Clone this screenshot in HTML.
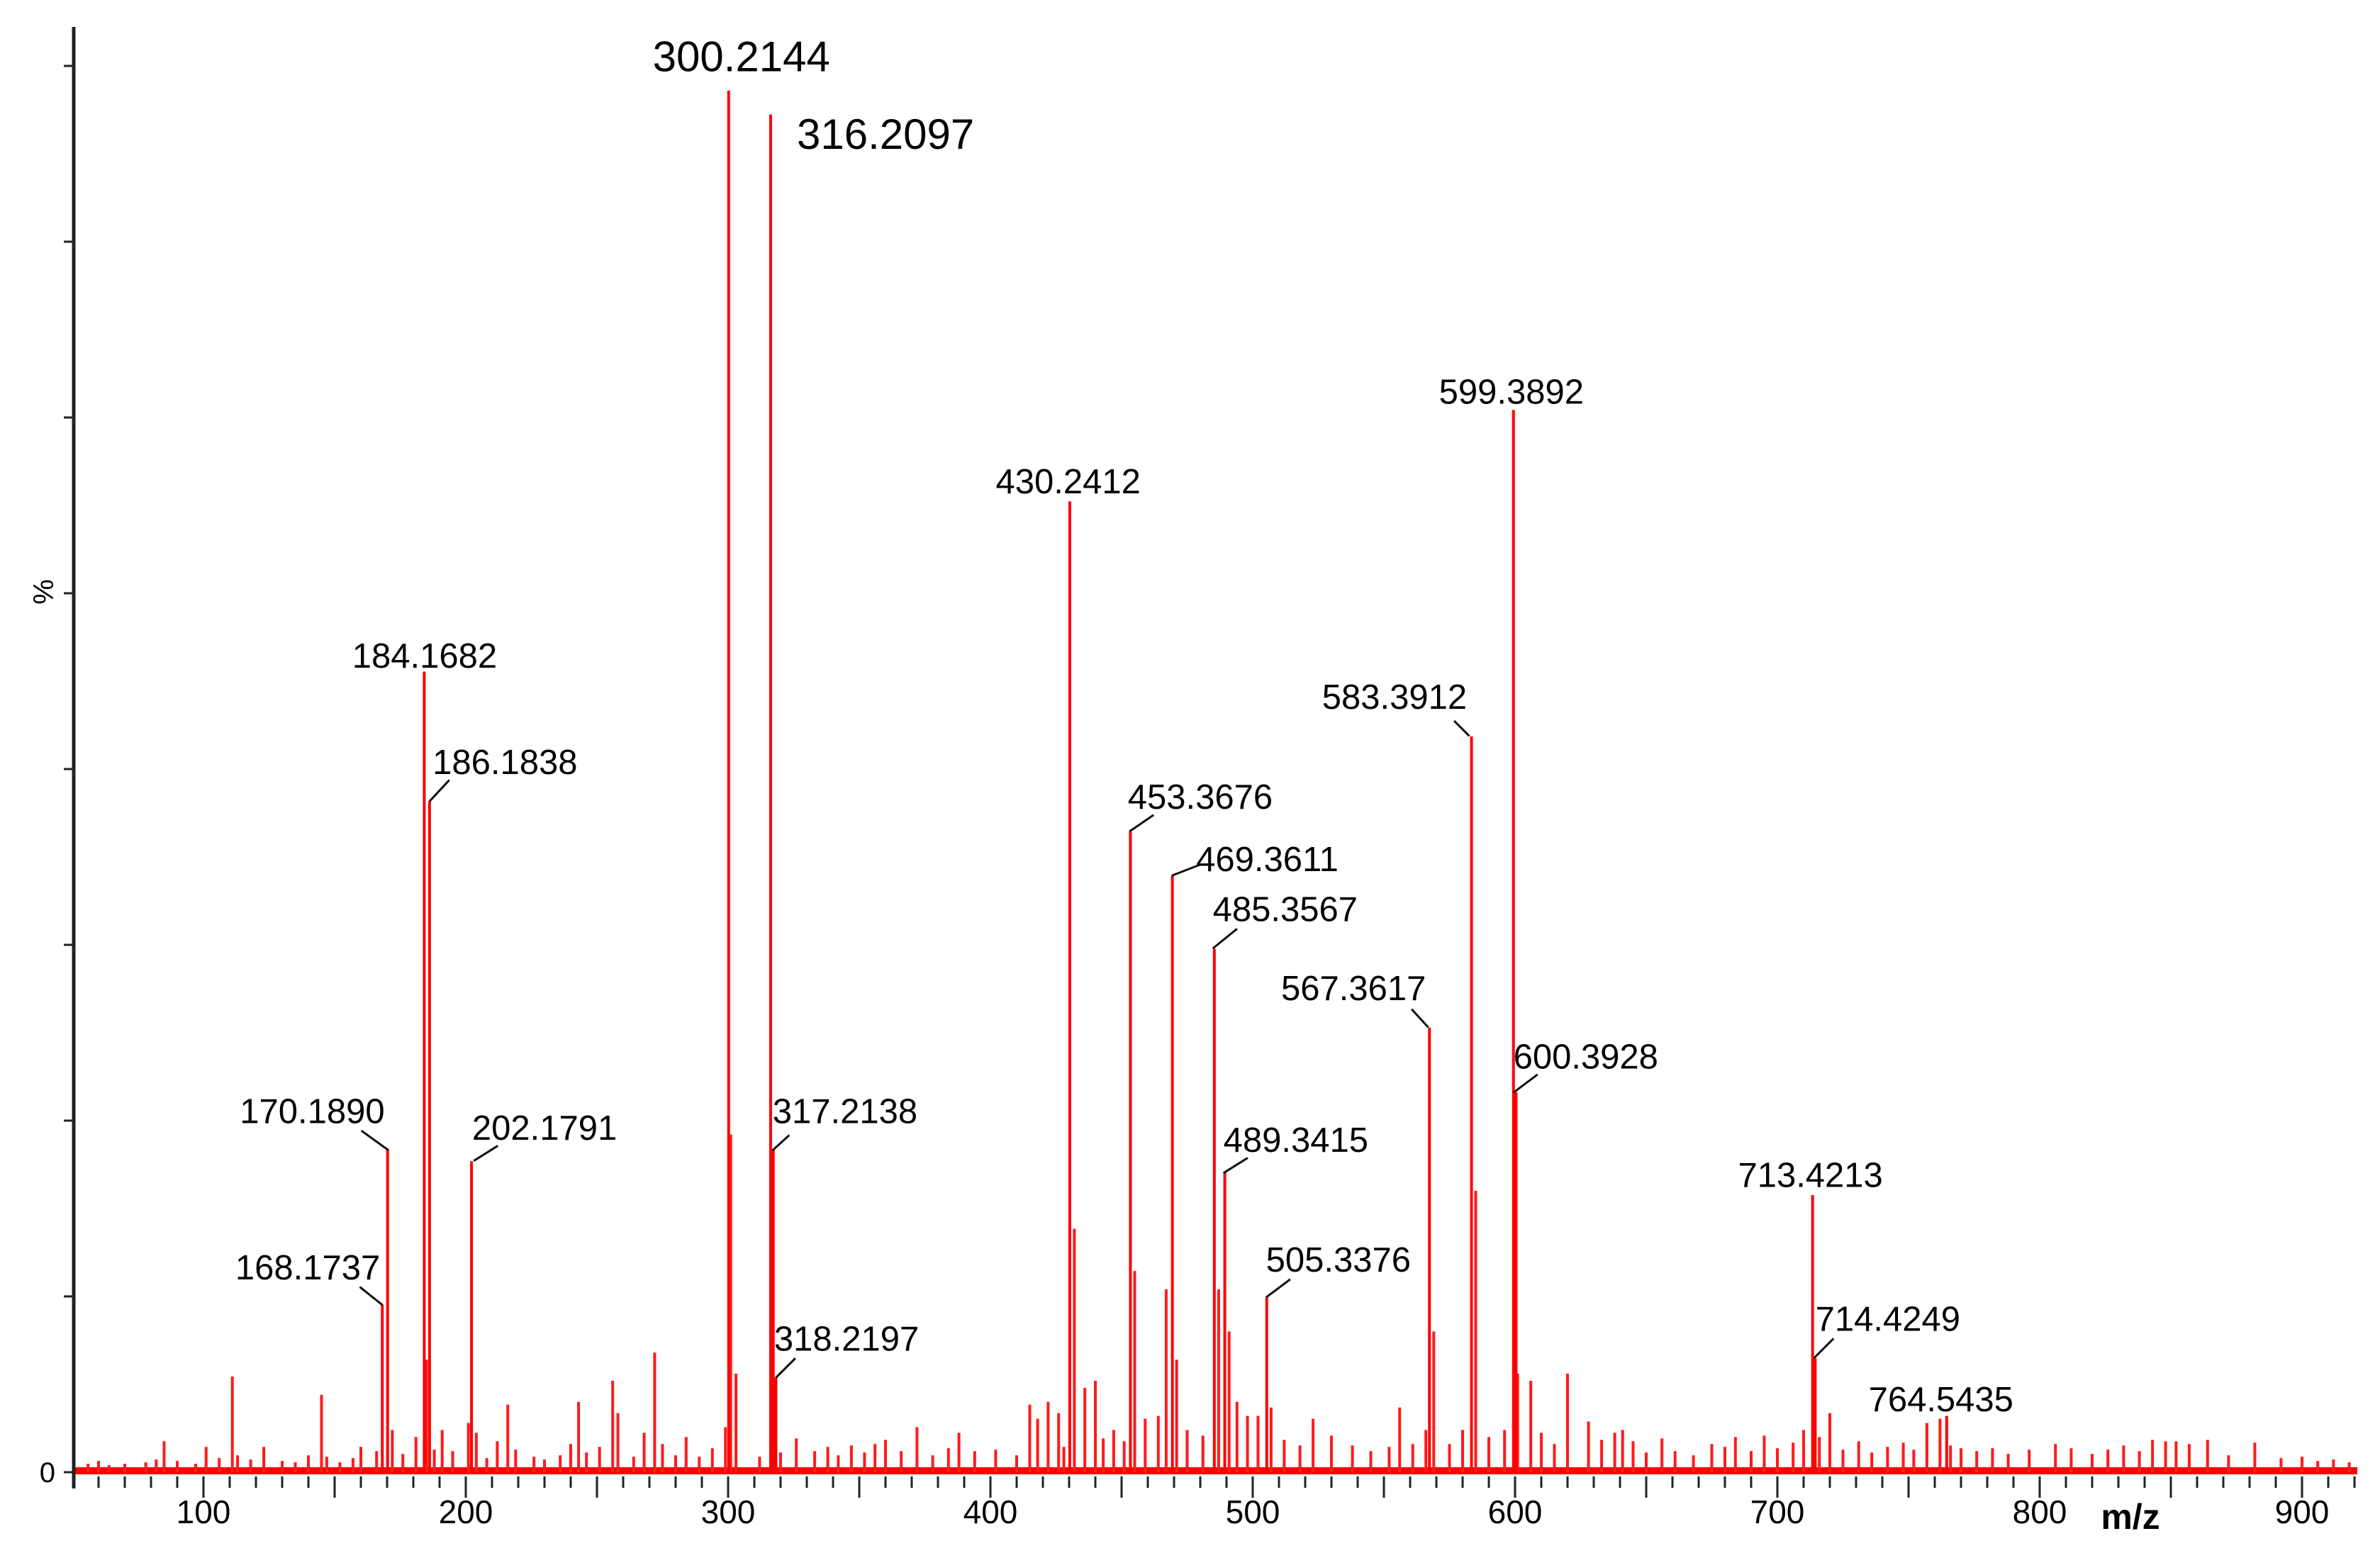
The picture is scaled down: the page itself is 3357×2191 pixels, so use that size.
<!DOCTYPE html>
<html><head><meta charset="utf-8"><style>
html,body{margin:0;padding:0;background:#fff;}
svg{display:block;}
text{font-family:"Liberation Sans",sans-serif;}
</style></head><body>
<svg id="chart" width="3357" height="2191" viewBox="0 0 3357 2191" xmlns="http://www.w3.org/2000/svg">
<g id="peaks"></g>
<g id="axes"></g>
<g id="labels"></g>
</svg>
<script>
// labelled peaks
const labelMz = [300.2144,316.2097,599.3892,430.2412,184.1682,186.1838,583.3912,453.3676,469.3611,485.3567,567.3617,600.3928,170.1890,202.1791,317.2138,489.3415,713.4213,168.1737,505.3376,318.2197,714.4249,764.5435];
const labelPct = [98.2,96.5,75.5,69.0,56.9,47.7,52.3,45.5,42.4,37.2,31.6,27.0,22.9,22.1,22.9,21.3,19.7,11.9,12.4,6.7,8.1,4.0];
// minor peaks
const minorMz = [56,60,64,70,78,82,85,90,97,101,106,111,113,118,123,130,135,140,145,147,152,157,160,166,172,176,181,185,188,191,195,201,204,208,212,216,219,226,230,236,240,243,246,251,256,258,264,268,272,275,280,284,289,294,299,301,303,312,320,326,333,338,342,347,352,356,360,366,372,378,384,388,394,402,410,415,418,422,426,428,432,436,440,443,447,451,455,459,464,467,471,475,481,487,491,494,498,502,507,512,518,523,530,538,545,552,556,561,566,569,575,580,585,590,596,601,606,610,615,620,628,633,638,641,645,650,656,661,668,675,680,684,690,695,700,706,710,716,720,725,731,736,742,748,752,757,762,766,770,776,782,788,796,806,812,820,826,832,838,843,848,852,857,864,872,882,892,900,906,912,918];
const minorPct = [0.6,0.8,0.5,0.6,0.7,0.9,2.2,0.8,0.6,1.8,1.0,6.8,1.2,0.9,1.8,0.8,0.7,1.2,5.5,1.1,0.7,1.0,1.8,1.5,3.0,1.3,2.5,8.0,1.6,3.0,1.5,3.5,2.8,1.0,2.2,4.8,1.6,1.1,0.9,1.2,2.0,5.0,1.4,1.8,6.5,4.2,1.1,2.8,8.5,2.0,1.2,2.5,1.1,1.7,3.2,24.0,7.0,1.1,1.4,2.4,1.5,1.8,1.2,1.9,1.4,2.0,2.3,1.5,3.2,1.2,1.7,2.8,1.5,1.6,1.2,4.8,3.8,5.0,4.2,1.8,17.3,6.0,6.5,2.4,3.0,2.2,14.3,3.8,4.0,13.0,8.0,3.0,2.6,13.0,10.0,5.0,4.0,4.0,4.6,2.3,1.9,3.8,2.6,1.9,1.5,1.8,4.6,2.0,3.0,10.0,2.0,3.0,20.0,2.5,3.0,7.0,6.5,2.8,2.0,7.0,3.6,2.3,2.8,3.0,2.2,1.4,2.4,1.5,1.2,2.0,1.8,2.5,1.5,2.6,1.7,2.1,3.0,2.5,4.2,1.6,2.2,1.4,1.8,2.1,1.6,3.5,3.8,1.9,1.7,1.5,1.7,1.3,1.6,2.0,1.7,1.3,1.6,1.9,1.5,2.3,2.2,2.2,2.0,2.3,1.2,2.1,1.0,1.1,0.8,0.9,0.7];
const xTicks = [100,200,300,400,500,600,700,800,900];
const xTickLabels = ["100","200","300","400","500","600","700","800","900"];

const NS="http://www.w3.org/2000/svg";
const X0=287, PX=3.70, Y0=2077, YTOP=92;
function xs(m){return X0+(m-100)*PX;}
function ys(p){return Y0-p*(Y0-YTOP)/100;}
function mk(tag,attrs,parent){const e=document.createElementNS(NS,tag);for(const k in attrs)e.setAttribute(k,attrs[k]);parent.appendChild(e);return e;}
const gP=document.getElementById('peaks'),gA=document.getElementById('axes'),gL=document.getElementById('labels');

const band=mk('rect',{x:105,y:Y0-7,width:3325-105,height:10,fill:'#ff0000'},gP);


minorMz.forEach((m,i)=>{
  const p=minorPct[i];
  if(!isFinite(p)) return;
  const l=mk('line',{x1:xs(m),x2:xs(m),y1:Y0,y2:ys(p),stroke:'#ff1a1a','stroke-width':4},gP);
  
  
});
labelMz.forEach((m,i)=>{
  const l=mk('line',{x1:xs(m),x2:xs(m),y1:Y0,y2:ys(labelPct[i]),stroke:'#ff0000','stroke-width':4},gP);
  
  
});

const ya=mk('line',{x1:104,x2:104,y1:38,y2:2100,stroke:'#222','stroke-width':5},gA);


for(let k=0;k<=8;k++){const yy=Y0-k*248;
  const t=mk('line',{x1:90,x2:104,y1:yy,y2:yy,stroke:'#222','stroke-width':3},gA);
  
  }
const y0l=mk('text',{x:78,y:Y0+14,'font-size':40,'text-anchor':'end',fill:'#000'},gA);y0l.textContent='0';


const yt=mk('text',{x:0,y:0,'font-size':40,transform:'translate(75,835) rotate(-90)','text-anchor':'middle',fill:'#000'},gA);yt.textContent='%';


for(let m=60;m<=920;m+=10){
  const major=(m%50===0);
  const t=mk('line',{x1:xs(m),x2:xs(m),y1:Y0+6,y2:Y0+(major?36:22),stroke:'#222','stroke-width':3},gA);
  
  
}
xTicks.forEach((m,i)=>{
  const t=mk('text',{x:xs(m),y:2149,'font-size':46,'text-anchor':'middle',fill:'#000'},gA);t.textContent=xTickLabels[i];
  
  
});
const xt=mk('text',{x:3005,y:2157,'font-size':50,'font-weight':'bold','text-anchor':'middle',fill:'#000'},gA);xt.textContent='m/z';



const S=2.141;
const labelLayout=[
 [430,47,60,null],[525,98,60,null],[948,266,49,null],[656,325,49,null],[232,440,49,null],
 [285,510,49,[283,528,296,514]],[871,467,49,[968,485,958,475]],[743,533,49,[744,548,760,537]],
 [788,574,49,[772,577,790,570]],[799,607,49,[799,625,815,612]],[844,659,49,[941,677,930,665]],
 [997,704,49,[997,720,1013,708]],[158,740,49,[256,758,238,745]],[311,751,49,[312,765,328,755]],
 [509,740,49,[509,758,520,748]],[806,759,49,[806,773,822,763]],[1145,782,49,null],
 [155,843,49,[252,860,237,848]],[834,838,49,[834,855,850,843]],[510,890,49,[511,908,524,895]],
 [1196,877,49,[1195,895,1208,882]],[1231,930,49,null]];
labelMz.forEach((m,i)=>{
  const L=labelLayout[i];
  const t=mk('text',{x:L[0]*S,y:L[1]*S,'font-size':L[2],fill:'#000'},gL);
  t.textContent=m.toFixed(4);
  
  
  if(L[3]){const q=L[3];
    const ld=mk('line',{x1:q[0]*S,y1:q[1]*S,x2:q[2]*S,y2:q[3]*S,stroke:'#111','stroke-width':3},gL);
    
    }
});
</script>
</body></html>
